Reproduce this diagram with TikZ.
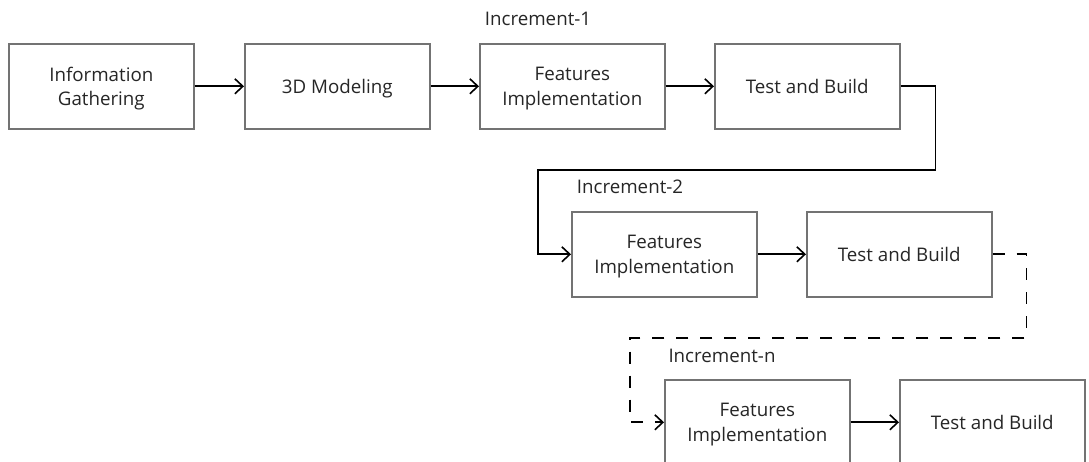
\documentclass[tikz,border=0pt]{standalone}
\usepackage{fontspec}
\setmainfont{Open Sans}
\usetikzlibrary{arrows.meta}
\begin{document}
\begin{tikzpicture}[x=1bp,y=-1bp,
  stage/.style={draw=black!55, line width=1.6bp, minimum width=185bp, minimum height=85bp,
    align=center, inner sep=0pt, text depth=0pt, font=\fontsize{18.8}{25}\selectfont, text=black!85, anchor=north west},
  lbl/.style={font=\fontsize{18.8}{25}\selectfont, text=black!85, inner sep=0pt},
  flow/.style={line width=1.6bp, -{Straight Barb[length=8bp,width=15bp,line width=1.6bp]}},
  later/.style={flow, dash pattern=on 12bp off 12bp}]
\useasboundingbox (0,0) rectangle (1089,462);
\fill[white] (0,0) rectangle (1089,462);

% first increment
\node[lbl] (inc1) at (538,19) {Increment-1};
\node[stage] (info) at (8,43) {Information\\Gathering};
\node[stage] (model) at (244,43) {3D Modeling};
\node[stage] (feat1) at (479,43) {Features\\Implementation};
\node[stage] (test1) at (714,43) {Test and Build};

% second increment
\node[lbl] (inc2) at (630,187) {Increment-2};
\node[stage] (feat2) at (571,211) {Features\\Implementation};
\node[stage] (test2) at (806,211) {Test and Build};

% n-th increment
\node[lbl] (incn) at (722,356) {Increment-n};
\node[stage] (featn) at (664,379) {Features\\Implementation};
\node[stage] (testn) at (899,379) {Test and Build};

\draw[flow] (info) -- (model);
\draw[flow] (model) -- (feat1);
\draw[flow] (feat1) -- (test1);
\draw[flow] (test1.east) -- ++(35,0) |- (735,170) -- (538,170) |- (feat2.west);
\draw[flow] (feat2) -- (test2);
\draw[later] (test2.east) -- ++(34,0) |- (735,338) -- (630,338) |- (featn.west);
\draw[flow] (featn) -- (testn);
\end{tikzpicture}
\end{document}
